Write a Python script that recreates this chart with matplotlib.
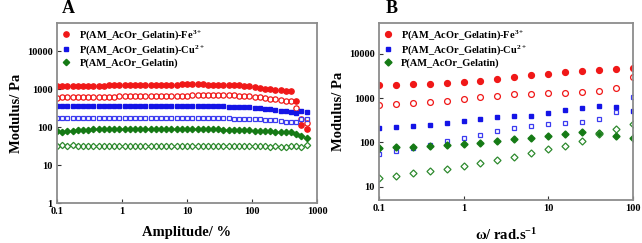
import numpy as np
import matplotlib
matplotlib.use('Agg')
from matplotlib import pyplot as plt
from matplotlib.ticker import FixedLocator, FixedFormatter

plt.rcParams['font.family'] = ['Liberation Serif', 'DejaVu Serif']
plt.rcParams['font.weight'] = 'bold'
plt.rcParams['mathtext.fontset'] = 'custom'
plt.rcParams['mathtext.rm'] = 'Liberation Serif:bold'
plt.rcParams['mathtext.it'] = 'Liberation Serif:bold'
plt.rcParams['mathtext.bf'] = 'Liberation Serif:bold'

#---DATA---#
# panel A: amplitude sweep
amplitude = [0.1, 0.120, 0.145, 0.174, 0.209, 0.251, 0.302, 0.363, 0.437, 0.525,
             0.631, 0.759, 0.912, 1.10, 1.32, 1.58, 1.91, 2.29, 2.75, 3.31,
             3.98, 4.79, 5.75, 6.92, 8.32, 10.0, 12.0, 14.5, 17.4, 20.9,
             25.1, 30.2, 36.3, 43.7, 52.5, 63.1, 75.9, 91.2, 110, 132,
             158, 191, 229, 275, 331, 398, 479, 575, 692]
fe_G1_amp = [1200, 1200, 1210, 1210, 1220, 1220, 1230, 1230, 1240, 1240,
             1250, 1250, 1260, 1260, 1270, 1280, 1290, 1300, 1300, 1310,
             1310, 1320, 1320, 1320, 1330, 1330, 1330, 1330, 1330, 1320,
             1320, 1310, 1300, 1290, 1270, 1250, 1220, 1180, 1130, 1080,
             1030, 990, 950, 920, 890, 870, 480, 110, 88]
fe_G2_amp = [600, 605, 610, 612, 615, 618, 620, 625, 628, 630,
             635, 638, 640, 645, 648, 650, 655, 658, 660, 662,
             665, 668, 670, 672, 675, 678, 680, 682, 685, 688,
             690, 690, 688, 685, 680, 670, 660, 645, 630, 610,
             590, 565, 540, 515, 495, 480, 310, 165, 125]
cu_G1_amp = [350, 350, 352, 352, 353, 353, 354, 354, 355, 355,
             355, 355, 356, 356, 356, 356, 356, 357, 357, 357,
             357, 357, 357, 357, 357, 356, 356, 355, 355, 354,
             352, 350, 348, 346, 344, 342, 338, 333, 325, 315,
             305, 295, 285, 270, 258, 248, 238, 262, 245]
cu_G2_amp = [170, 170, 170, 170, 170, 170, 170, 170, 170, 170,
             170, 170, 171, 171, 171, 171, 171, 171, 171, 171,
             171, 171, 171, 171, 171, 171, 171, 171, 170, 170,
             170, 170, 170, 169, 168, 167, 166, 165, 163, 161,
             158, 155, 150, 145, 140, 137, 133, 168, 160]
ge_G1_amp = [78, 76, 78, 80, 82, 84, 86, 87, 88, 89,
             90, 90, 91, 91, 91, 91, 91, 91, 91, 91,
             91, 91, 91, 90, 90, 90, 89, 89, 88, 88,
             87, 87, 86, 86, 85, 84, 83, 82, 81, 80,
             79, 78, 76, 75, 73, 72, 66, 57, 52]
ge_G2_amp = [31, 33, 32, 34, 31, 32, 31, 31, 32, 31,
             31, 31, 32, 31, 31, 31, 31, 32, 31, 31,
             31, 31, 31, 32, 31, 31, 31, 31, 32, 31,
             31, 31, 32, 31, 31, 31, 31, 32, 31, 31,
             31, 30, 31, 30, 30, 31, 31, 30, 34]

# panel B: frequency sweep
omega = [0.1, 0.158, 0.251, 0.398, 0.631, 1.0, 1.58, 2.51,
         3.98, 6.31, 10.0, 15.8, 25.1, 39.8, 63.1, 100.0]
fe_G1_freq = [2000, 2000, 2050, 2100, 2150, 2300, 2500, 2750,
              3000, 3300, 3600, 3900, 4200, 4400, 4600, 4800]
fe_G2_freq = [710, 720, 785, 825, 885, 945, 1040, 1140,
              1220, 1270, 1310, 1310, 1350, 1420, 1740, 2940]
cu_G1_freq = [212, 220, 235, 253, 270, 300, 332, 374,
              394, 394, 469, 536, 606, 649, 640, 509]
cu_G2_freq = [55, 64, 75, 87, 109, 129, 151, 182,
              212, 235, 255, 274, 295, 332, 484, 1070]
ge_G1_freq = [75, 77, 77, 81, 87, 92, 98, 109,
              117, 129, 141, 156, 176, 161, 141, 123]
ge_G2_freq = [16, 17.5, 20, 22.5, 25, 29.5, 34, 41,
              47.5, 57, 70, 84, 109, 158, 205, 266]

labels = ['P(AM_AcOr_Gelatin)-Fe$^{3+}$', 'P(AM_AcOr_Gelatin)-Cu$^{2+}$',
          'P(AM_AcOr_Gelatin)']

red = '#f01818'
blue = '#1414e6'
green = '#157a15'
blue_o = '#3c3cf0'
green_o = '#2e8a2e'
frame_col = '#8c8c8c'

#---FIGURE---#
fig = plt.figure(figsize=(6.42, 2.43), dpi=100)
axa = fig.add_axes([0.0888, 0.1646, 0.4050, 0.7407])
axb = fig.add_axes([0.5903, 0.1770, 0.3957, 0.7283])


def style_axes(ax):
    ax.set_xscale('log')
    ax.set_yscale('log')
    for sp in ax.spines.values():
        sp.set_color(frame_col)
        sp.set_linewidth(1.3)
    ax.tick_params(which='major', direction='in', length=3, width=0.8,
                   color='#333333', labelsize=7.5, pad=3)
    ax.tick_params(which='minor', length=0)
    for lab in ax.get_xticklabels() + ax.get_yticklabels():
        lab.set_fontweight('bold')


def draw(ax, x, series, ms_f):
    (g1r, g2r, g1b, g2b, g1g, g2g) = series
    h1, = ax.plot(x, g1r, 'o', color=red, ms=ms_f, mec=red, ls='none')
    ax.plot(x, g2r, 'o', mfc='none', mec=red, ms=ms_f, mew=0.9, ls='none')
    h2, = ax.plot(x, g1b, 's', color=blue, ms=ms_f * 0.85, ls='none')
    ax.plot(x, g2b, 's', mfc='none', mec=blue_o, ms=ms_f * 0.85, mew=0.9, ls='none')
    h3, = ax.plot(x, g1g, 'D', color=green, ms=ms_f * 0.85, ls='none')
    ax.plot(x, g2g, 'D', mfc='none', mec=green_o, ms=ms_f * 0.85, mew=0.9, ls='none')
    return [h1, h2, h3]


leg_kw = dict(loc='upper left', bbox_to_anchor=(0.0, 1.0), frameon=False,
              handlelength=0.8, handletextpad=0.9, labelspacing=0.15,
              borderaxespad=0.2, borderpad=0.25, prop={'weight': 'bold', 'size': 7.5})

# panel A
hA = draw(axa, amplitude, (fe_G1_amp, fe_G2_amp, cu_G1_amp, cu_G2_amp,
                           ge_G1_amp, ge_G2_amp), 3.8)
style_axes(axa)
axa.set_xlim(0.1, 1000)
axa.set_ylim(1, 55000)
axa.xaxis.set_major_locator(FixedLocator([0.1, 1, 10, 100, 1000]))
axa.xaxis.set_major_formatter(FixedFormatter(['0.1', '1', '10', '100', '1000']))
axa.yaxis.set_major_locator(FixedLocator([1, 10, 100, 1000, 10000]))
axa.yaxis.set_major_formatter(FixedFormatter(['1', '10', '100', '1000', '10000']))
axa.set_xlabel('Amplitude/ %', fontsize=10.5, fontweight='bold', labelpad=7)
axa.set_ylabel('Modulus/ Pa', fontsize=10.5, fontweight='bold', labelpad=3)
axa.legend(hA, labels, **leg_kw)
fig.text(0.097, 0.965, 'A', fontsize=13, fontweight='bold', va='center', ha='left')

# panel B
hB = draw(axb, omega, (fe_G1_freq, fe_G2_freq, cu_G1_freq, cu_G2_freq,
                       ge_G1_freq, ge_G2_freq), 4.2)
style_axes(axb)
axb.set_xlim(0.1, 100)
axb.set_ylim(5, 50000)
axb.xaxis.set_major_locator(FixedLocator([0.1, 1, 10, 100]))
axb.xaxis.set_major_formatter(FixedFormatter(['0.1', '1', '10', '100']))
axb.yaxis.set_major_locator(FixedLocator([10, 100, 1000, 10000]))
axb.yaxis.set_major_formatter(FixedFormatter(['10', '100', '1000', '10000']))
axb.set_xlabel(r'$\omega$/ rad.s$^{-1}$', fontsize=10.5, fontweight='bold', labelpad=10)
axb.set_ylabel('Modulus/ Pa', fontsize=10.5, fontweight='bold', labelpad=3)
axb.legend(hB, labels, **leg_kw)
fig.text(0.601, 0.965, 'B', fontsize=13, fontweight='bold', va='center', ha='left')

fig.savefig('out.png', dpi=100)
